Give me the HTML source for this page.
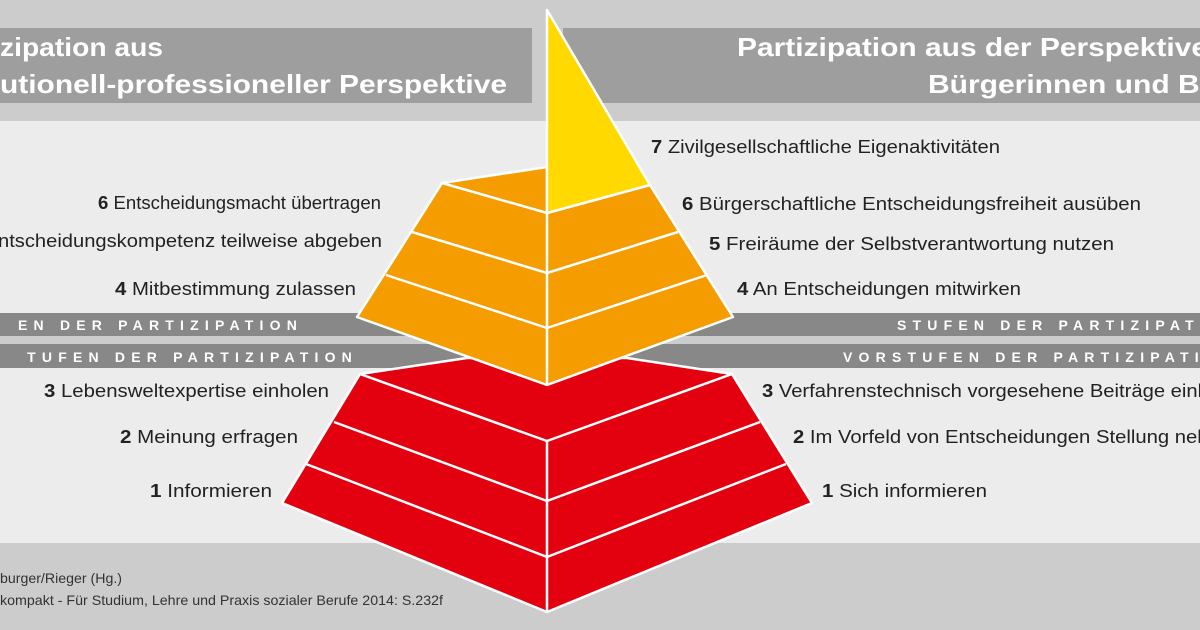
<!DOCTYPE html>
<html><head><meta charset="utf-8"><style>
html,body{margin:0;padding:0;width:1200px;height:630px;overflow:hidden;background:#ececec}
svg{display:block}
.h{font-family:"Liberation Sans",sans-serif;font-weight:bold;font-size:26px;fill:#fff}
.l{font-family:"Liberation Sans",sans-serif;font-size:18px;fill:#222}
.l tspan.b{font-weight:bold}
.s{font-family:"Liberation Sans",sans-serif;font-weight:bold;font-size:14px;fill:#fff;letter-spacing:6.2px}
.f{font-family:"Liberation Sans",sans-serif;font-size:14px;fill:#333}
</style></head><body>
<svg width="1200" height="630" viewBox="0 0 1200 630">
<rect x="0" y="0" width="1200" height="121" fill="#cccccc"/>
<rect x="0" y="121" width="1200" height="422" fill="#ececec"/>
<rect x="0" y="543" width="1200" height="87" fill="#cccccc"/>
<rect x="0" y="28" width="532" height="75" fill="#9d9e9d"/>
<rect x="563" y="28" width="637" height="75" fill="#9d9e9d"/>
<text class="h" x="0" y="56" textLength="163" lengthAdjust="spacingAndGlyphs">zipation aus</text>
<text class="h" x="0" y="93" textLength="507" lengthAdjust="spacingAndGlyphs">utionell-professioneller Perspektive</text>
<text class="h" x="737" y="56" textLength="471" lengthAdjust="spacingAndGlyphs">Partizipation aus der Perspektive</text>
<text class="h" x="928" y="93" textLength="290" lengthAdjust="spacingAndGlyphs">Bürgerinnen und Bü</text>
<!-- bands -->
<rect x="0" y="313" width="1200" height="23" fill="#888"/>
<rect x="0" y="336" width="1200" height="8" fill="#cccccc"/>
<rect x="0" y="344" width="1200" height="24" fill="#888"/>
<text class="s" x="303" y="330" text-anchor="end">EN DER PARTIZIPATION</text>
<text class="s" x="358" y="362" text-anchor="end">TUFEN DER PARTIZIPATION</text>
<text class="s" x="897" y="330">STUFEN DER PARTIZIPATION</text>
<text class="s" x="843" y="362">VORSTUFEN DER PARTIZIPATION</text>
<!-- red -->
<g stroke="#fff" stroke-width="2.5" stroke-linejoin="round">
<polygon points="360,374 467,358 627,358 732,374 812,503 547,612 282,503" fill="#e3000f"/>
<polyline points="360,374 547,441 732,374" fill="none"/>
<polyline points="334,422 547,501 760,422" fill="none"/>
<polyline points="306,464 547,557 786,464" fill="none"/>
<line x1="547" y1="441" x2="547" y2="612"/>
<!-- orange -->
<polygon points="442,183 547,167 547,212 650,185 733,317 547,385 357,317" fill="#f59c00"/>
<polyline points="442,183 547,213 650,185" fill="none"/>
<polyline points="412,232 547,273 678,232" fill="none"/>
<polyline points="386,275 547,328 707,275" fill="none"/>
<line x1="547" y1="213" x2="547" y2="385"/>
<!-- yellow -->
<polygon points="547,10 650,185 547,213" fill="#ffd900"/>
</g>
<!-- labels -->
<text class="l" x="98" y="209" textLength="283" lengthAdjust="spacingAndGlyphs"><tspan class="b">6</tspan> Entscheidungsmacht übertragen</text>
<text class="l" x="-2" y="247" textLength="384" lengthAdjust="spacingAndGlyphs">ntscheidungskompetenz teilweise  abgeben</text>
<text class="l" x="115" y="295" textLength="241" lengthAdjust="spacingAndGlyphs"><tspan class="b">4</tspan> Mitbestimmung zulassen</text>
<text class="l" x="44" y="397" textLength="285" lengthAdjust="spacingAndGlyphs"><tspan class="b">3</tspan> Lebensweltexpertise einholen</text>
<text class="l" x="120" y="443" textLength="178" lengthAdjust="spacingAndGlyphs"><tspan class="b">2</tspan> Meinung erfragen</text>
<text class="l" x="150" y="497" textLength="122" lengthAdjust="spacingAndGlyphs"><tspan class="b">1</tspan> Informieren</text>
<text class="l" x="651" y="153" textLength="349" lengthAdjust="spacingAndGlyphs"><tspan class="b">7</tspan> Zivilgesellschaftliche Eigenaktivitäten</text>
<text class="l" x="682" y="210" textLength="459" lengthAdjust="spacingAndGlyphs"><tspan class="b">6</tspan> Bürgerschaftliche Entscheidungsfreiheit ausüben</text>
<text class="l" x="709" y="250" textLength="405" lengthAdjust="spacingAndGlyphs"><tspan class="b">5</tspan> Freiräume der Selbstverantwortung nutzen</text>
<text class="l" x="737" y="295" textLength="284" lengthAdjust="spacingAndGlyphs"><tspan class="b">4</tspan> An Entscheidungen mitwirken</text>
<text class="l" x="762" y="397" textLength="503" lengthAdjust="spacingAndGlyphs"><tspan class="b">3</tspan> Verfahrenstechnisch vorgesehene Beiträge einbringen</text>
<text class="l" x="793" y="443" textLength="455" lengthAdjust="spacingAndGlyphs"><tspan class="b">2</tspan> Im Vorfeld von Entscheidungen Stellung nehmen</text>
<text class="l" x="822" y="497" textLength="165" lengthAdjust="spacingAndGlyphs"><tspan class="b">1</tspan> Sich informieren</text>
<text class="f" x="0" y="583" textLength="122" lengthAdjust="spacingAndGlyphs">burger/Rieger (Hg.)</text>
<text class="f" x="0" y="605" textLength="443" lengthAdjust="spacingAndGlyphs">kompakt - Für Studium, Lehre und Praxis sozialer Berufe 2014: S.232f</text>
</svg>
</body></html>
